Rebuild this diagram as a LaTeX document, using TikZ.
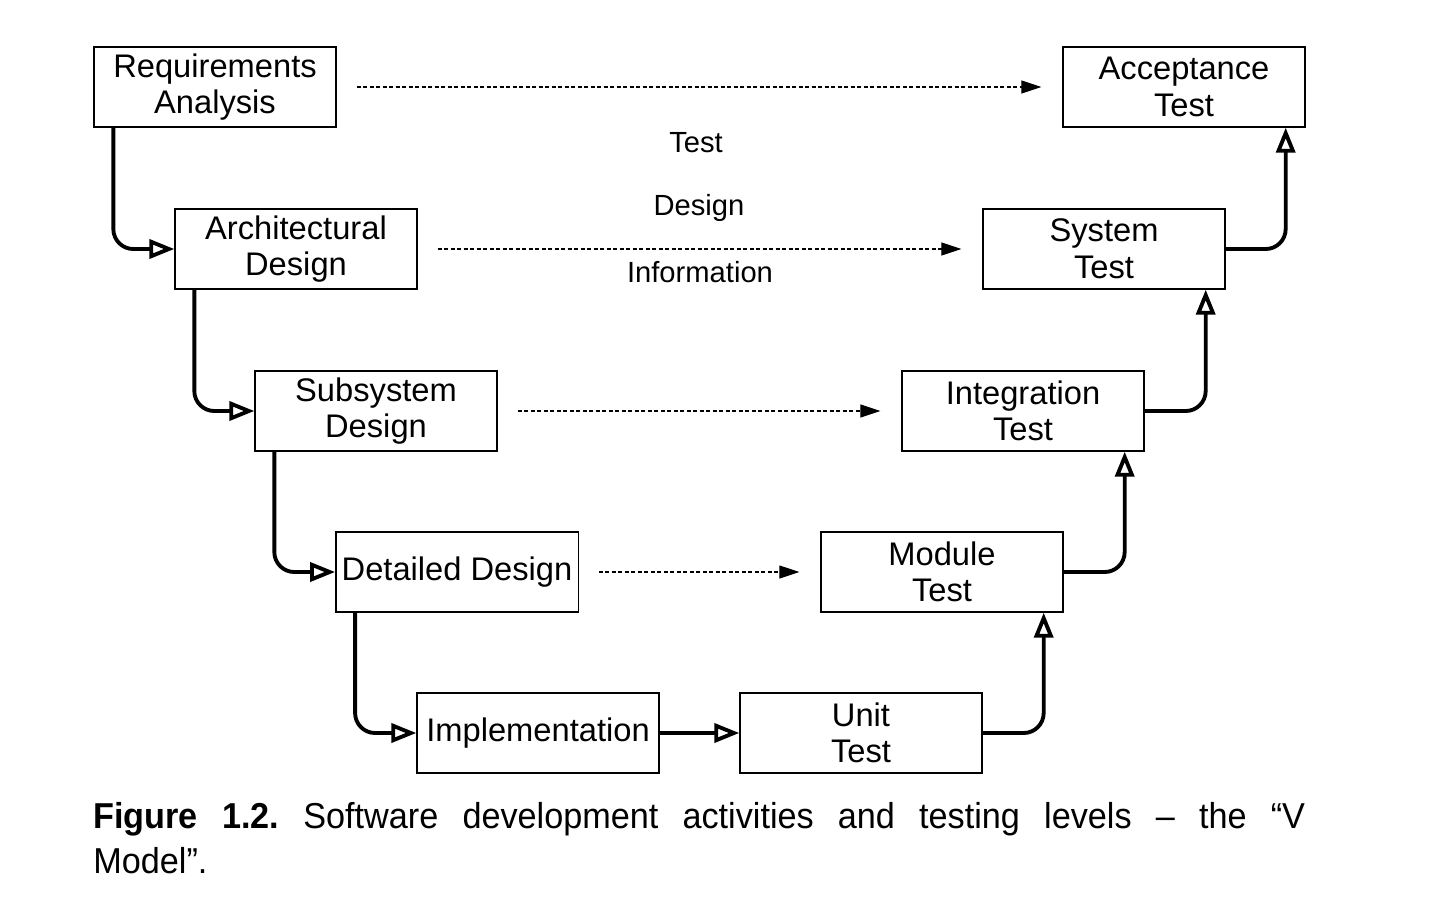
\documentclass[tikz,border=0pt]{standalone}
\usepackage{fontspec}
\setmainfont{Liberation Sans}
\newfontfamily\capfont[FakeStretch=0.95]{Liberation Sans}
\usetikzlibrary{arrows.meta}

\tikzset{
  stage/.style={draw, line width=0.8pt, minimum width=4.84cm, minimum height=1.6cm,
    align=center, font=\fontsize{18.6}{20.8}\selectfont},
  flow/.style={line width=2.2pt, rounded corners=0.4cm,
    -{Triangle[open, length=0.5cm, width=0.38cm]}},
  info/.style={line width=0.6pt, dash pattern=on 2.2pt off 1.5pt,
    -{Triangle[length=0.4cm, width=0.26cm]}},
  lbl/.style={font=\fontsize{16.6}{19}\selectfont}
}

\begin{document}
\frenchspacing
\begin{tikzpicture}[x=0.02cm,y=-0.02cm]
\useasboundingbox (0,0) rectangle (1442,916);
% left branch of the V
\node[stage] (req)   at (215,87)   {Requirements\\Analysis};
\node[stage] (arch)  at (296,249)  {Architectural\\Design};
\node[stage] (sub)   at (376,411)  {Subsystem\\Design};
\node[stage] (det)   at (457,572)  {Detailed Design};
\node[stage] (impl)  at (538,733)  {Implementation};
% right branch of the V
\node[stage] (unit)  at (861,733)  {Unit\\Test};
\node[stage] (mod)   at (942,572)  {Module\\Test};
\node[stage] (integ) at (1023,411) {Integration\\Test};
\node[stage] (sys)   at (1104,249) {System\\Test};
\node[stage] (acc)   at (1184,87)  {Acceptance\\Test};

\draw[flow] ([xshift=0.4cm]req.south west)  |- (arch.west);
\draw[flow] ([xshift=0.4cm]arch.south west) |- (sub.west);
\draw[flow] ([xshift=0.4cm]sub.south west)  |- (det.west);
\draw[flow] ([xshift=0.4cm]det.south west)  |- (impl.west);
\draw[flow] (impl) -- (unit);
\draw[flow] (unit.east)  -| ([xshift=-0.4cm]mod.south east);
\draw[flow] (mod.east)   -| ([xshift=-0.4cm]integ.south east);
\draw[flow] (integ.east) -| ([xshift=-0.4cm]sys.south east);
\draw[flow] (sys.east)   -| ([xshift=-0.4cm]acc.south east);

\draw[info] ([xshift=0.4cm]req.east)  -- ([xshift=-0.42cm]acc.west);
\draw[info] ([xshift=0.4cm]arch.east) -- ([xshift=-0.42cm]sys.west);
\draw[info] ([xshift=0.4cm]sub.east)  -- ([xshift=-0.42cm]integ.west);
\draw[info] ([xshift=0.4cm]det.east)  -- ([xshift=-0.42cm]mod.west);

\node[lbl] (ltest)   at (696,143) {Test};
\node[lbl] (ldesign) at (699,208) {Design};
\node[lbl] (linfo)   at (700,272) {Information};

\node[anchor=north west, text width=24.24cm, align=justify, inner sep=0pt,
  font=\capfont\fontsize{20.5}{25.5}\selectfont] (cap) at (93,802)
  {\textbf{Figure 1.2.} Software development activities and testing levels – the “V\linebreak Model”.};
\end{tikzpicture}
\end{document}
